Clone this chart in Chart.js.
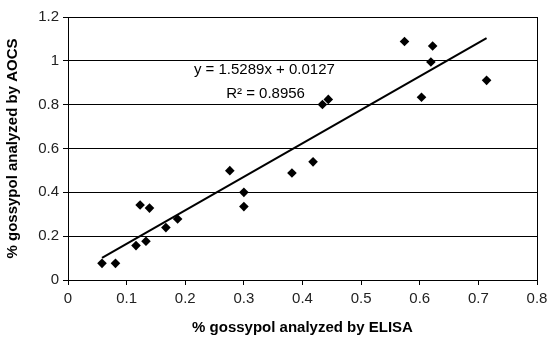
<!DOCTYPE html>
<html>
<head>
<meta charset="utf-8">
<script src="https://cdn.jsdelivr.net/npm/chart.js@4.4.0/dist/chart.umd.min.js"></script>
<style>
  html, body { margin: 0; padding: 0; background: #fff; }
  #wrap { width: 549px; height: 341px; }
</style>
</head>
<body>
<div id="wrap"><canvas id="myChart" width="549" height="341"></canvas></div>
<script>
// values
var elisa = [0.058, 0.081, 0.116, 0.133, 0.123, 0.139, 0.167, 0.187, 0.276, 0.300,
             0.300, 0.382, 0.418, 0.434, 0.444, 0.574, 0.603, 0.619, 0.622, 0.714];
var aocs  = [0.076, 0.076, 0.157, 0.177, 0.342, 0.328, 0.239, 0.278, 0.499, 0.400,
             0.335, 0.488, 0.539, 0.801, 0.824, 1.088, 0.834, 0.995, 1.068, 0.911];
var trendX = [0.058, 0.714];
var trendY = [0.101, 1.104];
var eqLine1 = "y = 1.5289x + 0.0127";
var eqLine2 = "R² = 0.8956";
var xTitle = "% gossypol analyzed by ELISA";
var yTitle = "% gossypol analyzed by AOCS";

var pts = [];
for (var i = 0; i < elisa.length; i++) pts.push({ x: elisa[i], y: aocs[i] });
var trend = [];
for (var j = 0; j < trendX.length; j++) trend.push({ x: trendX[j], y: trendY[j] });

var font = "'Liberation Sans', Arial, sans-serif";
var fmt = function (v) { return String(Number(v.toFixed(1))); };

// frame round the plot area and the trendline label
var framePlugin = {
  id: 'frame',
  afterDatasetsDraw: function (chart) {
    var a = chart.chartArea, ctx = chart.ctx;
    ctx.save();
    ctx.strokeStyle = '#000';
    ctx.lineWidth = 1;
    ctx.strokeRect(Math.round(a.left) + 0.5, Math.round(a.top) + 0.5,
      Math.round(a.right - a.left), Math.round(a.bottom - a.top));
    var xs = chart.scales.x, ys = chart.scales.y;
    ctx.fillStyle = '#000';
    ctx.font = '15px ' + font;
    ctx.textAlign = 'center';
    ctx.textBaseline = 'middle';
    ctx.fillText(eqLine1, xs.getPixelForValue(0.335), ys.getPixelForValue(0.96));
    ctx.fillText(eqLine2, xs.getPixelForValue(0.337), ys.getPixelForValue(0.85));
    ctx.restore();
  }
};

var ctx = document.getElementById('myChart').getContext('2d');
var myChart = new Chart(ctx, {
  type: 'scatter',
  data: {
    datasets: [{
      label: 'trend',
      type: 'line',
      data: trend,
      borderColor: '#000',
      borderWidth: 2,
      pointRadius: 0,
      fill: false
    }, {
      label: 'samples',
      data: pts,
      pointStyle: 'rectRot',
      pointRadius: 4.8,
      backgroundColor: '#000',
      borderColor: '#000',
      borderWidth: 0
    }]
  },
  options: {
    responsive: false,
    animation: false,
    layout: { padding: { top: 17, right: 0, left: 0, bottom: 0 } },
    plugins: {
      legend: { display: false },
      tooltip: { enabled: false }
    },
    scales: {
      x: {
        type: 'linear',
        min: 0, max: 0.8,
        afterFit: function (s) { s.height = 61; s.paddingRight = 12; },
        ticks: { stepSize: 0.1, color: '#222', padding: 5, callback: fmt,
                 font: { size: 15, family: font } },
        grid: { drawOnChartArea: false, tickLength: 5, color: '#000' },
        border: { color: '#000' },
        title: { display: true, text: xTitle, color: '#000', padding: { top: 8 },
                 font: { size: 15, weight: 'bold', family: font } }
      },
      y: {
        min: 0, max: 1.2,
        afterFit: function (s) { s.width = 68; },
        ticks: { stepSize: 0.2, color: '#222', padding: 4, callback: fmt,
                 font: { size: 15, family: font } },
        grid: { color: '#000', tickLength: 5 },
        border: { color: '#000' },
        title: { display: true, text: yTitle, color: '#000', padding: { bottom: 2 },
                 font: { size: 15, weight: 'bold', family: font } }
      }
    }
  },
  plugins: [framePlugin]
});
</script>
</body>
</html>
